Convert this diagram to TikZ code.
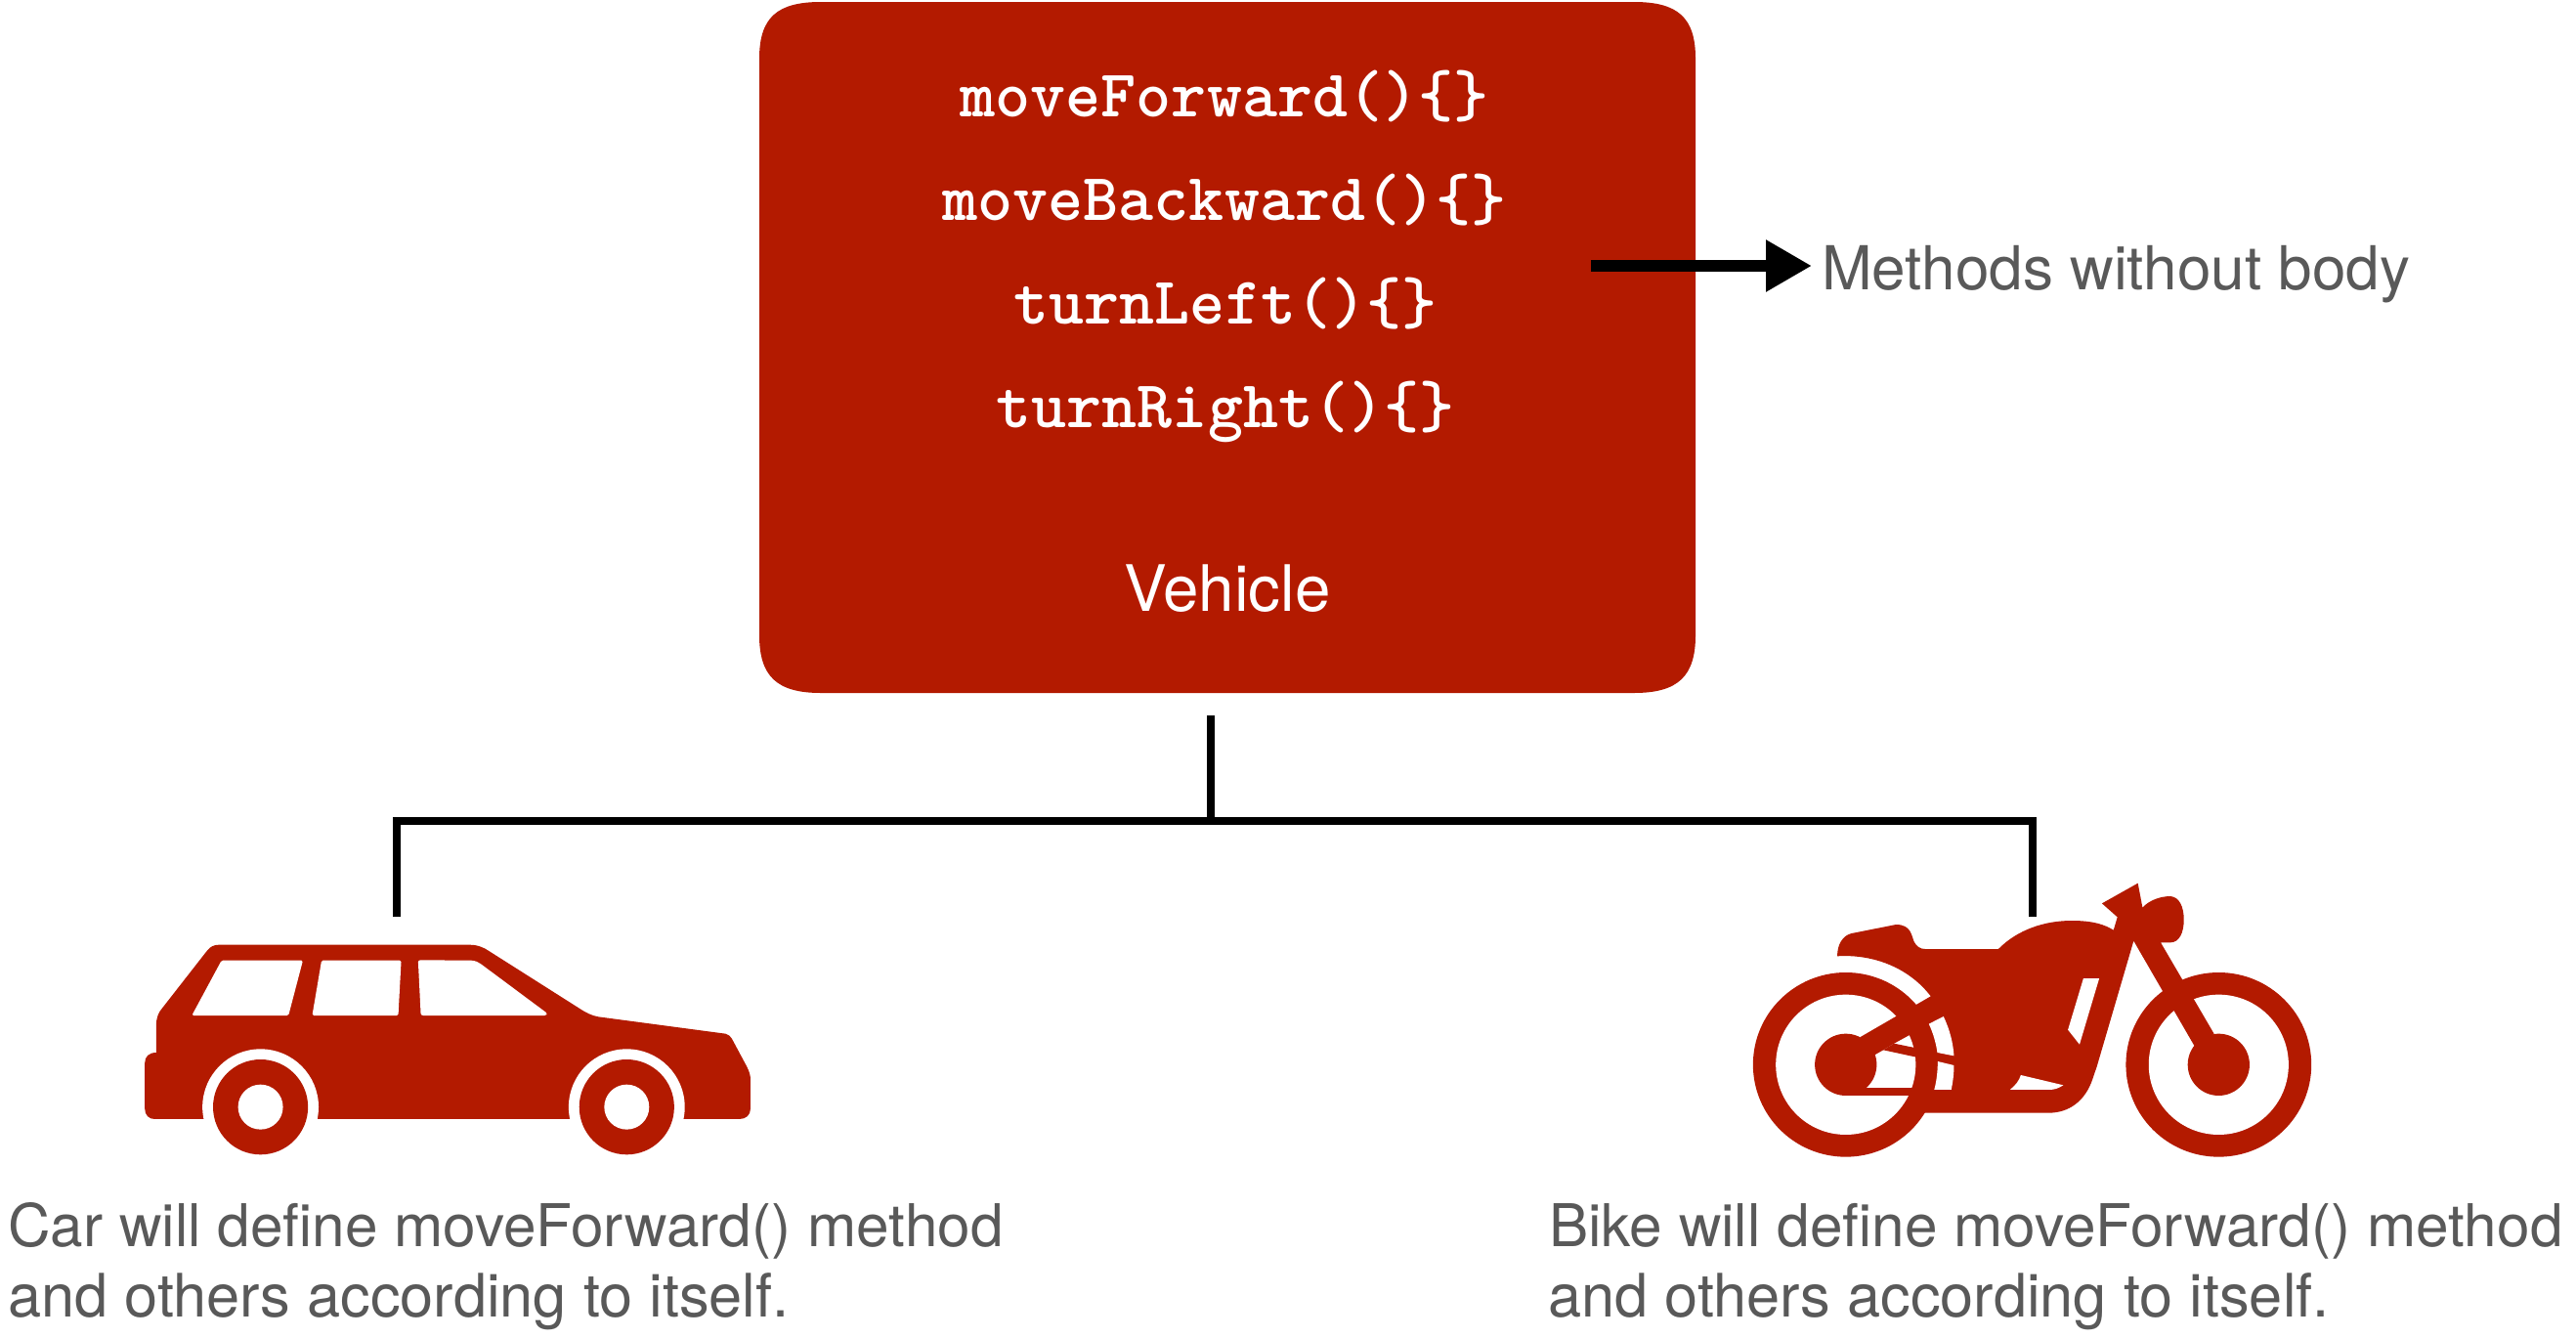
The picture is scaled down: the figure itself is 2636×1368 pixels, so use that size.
\documentclass[tikz,border=0pt]{standalone}
\usepackage{fontspec}
\setmainfont{TeX Gyre Heros}
\usetikzlibrary{arrows.meta}
\definecolor{vred}{HTML}{B31A00}
\definecolor{lgray}{HTML}{595959}
\tikzset{
  x=1pt,y=-1pt,
  codetext/.style={anchor=base,inner sep=0,text=white,font=\ttfamily\bfseries\fontsize{68.6}{68.6}\selectfont},
  vehtext/.style={anchor=base,inner sep=0,text=white,font=\fontsize{65.5}{65.5}\selectfont},
  graytext/.style={anchor=base west,inner sep=0,text=lgray,font=\fontsize{60.3}{60.3}\selectfont},
  graytexttwo/.style={anchor=base west,inner sep=0,text=lgray,font=\fontsize{61.3}{61.3}\selectfont},
  methtext/.style={anchor=base west,inner sep=0,text=lgray,font=\fontsize{62}{62}\selectfont},
  conn/.style={draw=black,line width=8pt},
  arrowline/.style={draw=black,line width=12pt,-{Triangle[length=47pt,width=50pt]}},
  carscope/.style={shift={(120,941)},xscale=0.4337,yscale=0.3333},
  bikescope/.style={shift={(1780,891)},xscale=0.3954,yscale=0.3333},
}
\begin{document}
\begin{tikzpicture}
\useasboundingbox (0,0) rectangle (2636,1368);
\fill[white] (0,0) rectangle (2636,1368);
\node[minimum width=958pt,minimum height=707pt,inner sep=0] (box) at (1256,355.5) {};
\fill[vred] (777,60) .. controls (777,18) and (795,2) .. (840,2) -- (1672,2)
  .. controls (1717,2) and (1735,18) .. (1735,60) -- (1735,650)
  .. controls (1735,692) and (1717,709) .. (1672,709) -- (840,709)
  .. controls (795,709) and (777,692) .. (777,650) -- cycle;
\node[codetext] (m1) at (1253,119) {moveForward()\{\}};
\node[codetext] (m2) at (1253,225) {moveBackward()\{\}};
\node[codetext] (m3) at (1254,331) {turnLeft()\{\}};
\node[codetext] (m4) at (1254,437) {turnRight()\{\}};
\node[vehtext] (veh) at (1256,625) {Vehicle};
\node[methtext] (lab) at (1864,296) {Methods without body};
\node[graytext] (car1) at (8,1275) {Car will define moveForward() method};
\node[graytexttwo] (car2) at (8,1347) {and others according to itself.};
\node[graytext] (bike1) at (1585,1275) {Bike will define moveForward() method};
\node[graytexttwo] (bike2) at (1584,1347) {and others according to itself.};
% arrow
\coordinate (as) at (1628,272);
\coordinate (ae) at (1854,272);
\draw[arrowline] (as) -- (ae);
% connector
\coordinate (stem) at (1239,732);
\coordinate (jn) at (1239,840);
\coordinate (cartop) at (406,938);
\coordinate (biketop) at (2080,938);
\draw[conn] (stem) -- (jn);
\draw[conn,line join=miter] (cartop) |- (jn) -| (biketop);
% car
\begin{scope}[carscope]
\fill[vred] (65,440) .. controls (65,420) and (75,408) .. (92,408) -- (92,325)
  .. controls (92,300) and (97,285) .. (107,270) -- (212,95)
  .. controls (220,82) and (228,77) .. (240,77) -- (830,77)
  .. controls (850,77) and (865,85) .. (878,97) -- (1090,272)
  .. controls (1105,285) and (1120,295) .. (1135,298) -- (1435,350)
  .. controls (1442,352) and (1447,358) .. (1450,365) -- (1485,450)
  .. controls (1491,465) and (1494,478) .. (1494,490) -- (1494,580)
  .. controls (1494,600) and (1483,612) .. (1468,612) -- (88,612)
  .. controls (75,612) and (65,600) .. (65,580) -- cycle;
\foreach \cx in {338,1202}{
  \fill[white] (\cx,575) ellipse [x radius=137,y radius=178];
  \fill[vred] (\cx,575) ellipse [x radius=112,y radius=146];
  \fill[white] (\cx,575) ellipse [x radius=53,y radius=69];
}
\fill[white,rounded corners=1.5pt] (246,125) -- (438,125) -- (404,294) -- (176,294) -- cycle;
\fill[white,rounded corners=1.5pt] (482,125) -- (670,125) -- (663,294) -- (460,294) -- cycle;
\fill[white] (710,130) .. controls (710,126) and (712,124) .. (716,124) -- (835,125)
  .. controls (845,126) and (852,130) .. (858,136) -- (1012,285)
  .. controls (1015,289) and (1014,294) .. (1008,294) -- (722,294)
  .. controls (718,294) and (716,291) .. (716,288) -- cycle;
\end{scope}
% bike
\begin{scope}[bikescope]
\foreach \cx in {275,1240}{
  \fill[vred] (\cx,595) ellipse [x radius=240,y radius=283];
  \fill[white] (\cx,595) ellipse [x radius=181,y radius=215];
  \fill[vred] (\cx,595) ellipse [x radius=80,y radius=95];
}
\fill[vred] (253,262) .. controls (253,225) and (268,198) .. (290,192) -- (405,165)
  .. controls (445,165) and (445,200) .. (452,218) .. controls (458,232) and (468,240) .. (480,240)
  -- (670,240) .. controls (720,180) and (790,153) .. (860,153)
  .. controls (915,153) and (945,165) .. (968,182) -- (978,142) -- (938,100) -- (1031,38) -- (1043,113)
  .. controls (1060,90) and (1090,78) .. (1115,78) .. controls (1138,80) and (1150,110) .. (1150,150)
  .. controls (1150,190) and (1138,220) .. (1115,220) -- (1090,220) -- (1228,500) -- (1177,537)
  -- (1020,215) -- (925,600) -- (915,635) .. controls (895,710) and (850,743) .. (800,743)
  -- (478,743) -- (470,600) -- (495,385) .. controls (440,300) and (350,255) .. (253,262) -- cycle;
\fill[vred] (313,510) -- (495,385) -- (528,447) -- (400,530) -- (372,550) -- (350,565) -- (300,560) -- cycle;
\fill[vred] (400,530) -- (555,568) -- (555,597) -- (372,550) -- cycle;
\fill[vred] (275,665) rectangle (500,690);
\fill[white] (490,470) -- (528,447) .. controls (545,490) and (553,530) .. (555,568) -- (512,558)
  .. controls (508,525) and (500,495) .. (490,470) -- cycle;
\fill[white] (513,585) -- (555,597) .. controls (555,625) and (552,650) .. (548,672) -- (504,672)
  .. controls (510,645) and (513,615) .. (513,585) -- cycle;
\fill[white] (890,330) -- (931,330) -- (880,533) -- (850,488) -- cycle;
\fill[white] (728,627) -- (838,658) .. controls (825,668) and (815,672) .. (800,672) -- (700,672)
  .. controls (715,658) and (724,643) .. (728,627) -- cycle;
\end{scope}
\end{tikzpicture}
\end{document}
